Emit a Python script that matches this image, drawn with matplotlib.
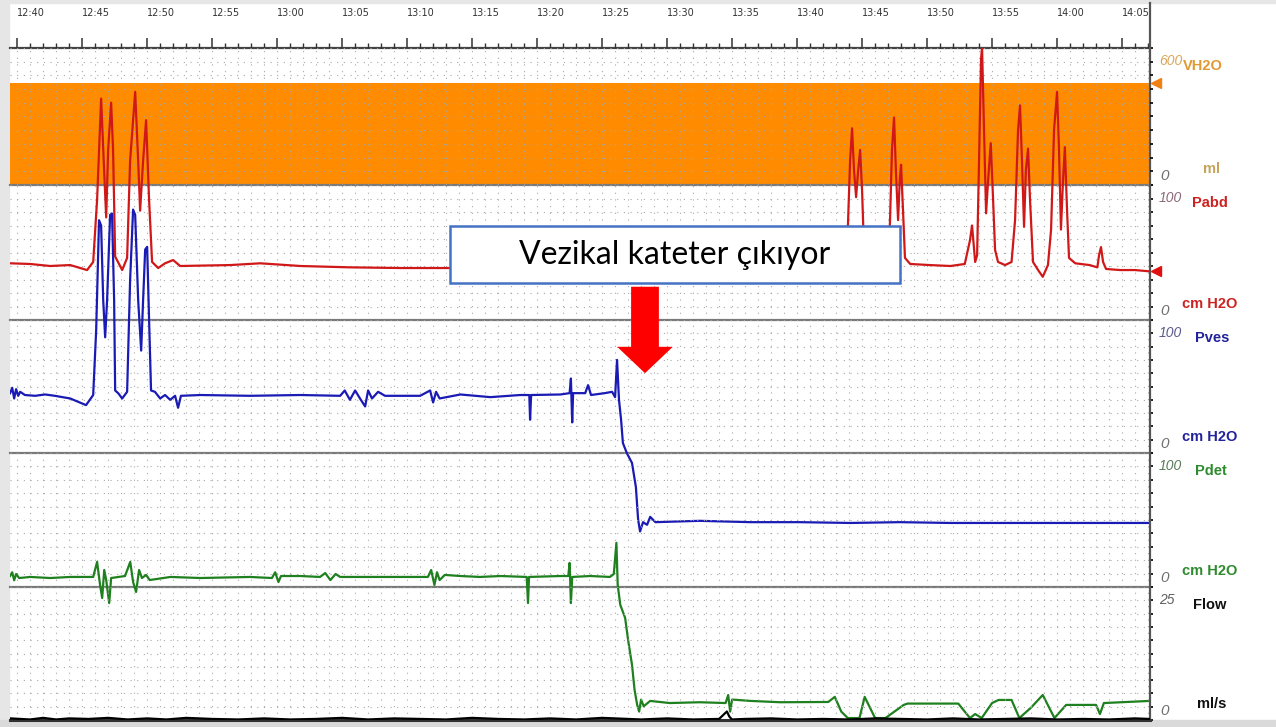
import numpy as np
import matplotlib.pyplot as plt
from matplotlib.patches import Rectangle
from matplotlib.lines import Line2D
from matplotlib.transforms import Bbox, TransformedBbox, ScaledTranslation

W, H = 1276, 727

# zaman: 12:40'tan itibaren dakika
tick_minutes = [0, 5, 10, 15, 20, 25, 30, 35, 40, 45, 50, 55, 60, 65, 70, 75, 80, 85]
tick_labels = ["12:40", "12:45", "12:50", "12:55", "13:00", "13:05", "13:10", "13:15", "13:20",
               "13:25", "13:30", "13:35", "13:40", "13:45", "13:50", "13:55", "14:00", "14:05"]
t_start, t_end = -0.55, 87.15

# VH2O (ml)
vh2o_t = [t_start, t_end]
vh2o_ml = [447, 447]

# Pabd (cm H2O)
pabd_t = [-0.54, 1.0, 2.54, 4.08, 5.38, 5.85, 6.15, 6.46, 6.69, 6.85, 7.0, 7.23, 7.38, 7.54, 8.08,
          8.46, 8.69, 9.08, 9.31, 9.46, 9.69, 9.92, 10.15, 10.38, 10.85, 11.38, 12.0, 12.54, 16.4,
          18.7, 21.8, 25.6, 29.5, 33.3, 44.8, 63.7, 63.9, 64.08, 64.23, 64.38, 64.54, 64.7, 64.85,
          65.0, 65.15, 65.6, 67.0, 67.15, 67.3, 67.46, 67.6, 67.77, 67.9, 68.0, 68.15, 68.3, 68.7,
          70.2, 71.8, 72.9, 73.3, 73.46, 73.7, 73.85, 74.0, 74.15, 74.23, 74.38, 74.54, 74.7, 74.9,
          75.08, 75.23, 75.46, 76.0, 76.5, 76.77, 77.0, 77.15, 77.3, 77.46, 77.6, 77.77, 77.92,
          78.15, 78.54, 78.9, 79.3, 79.54, 79.77, 80.0, 80.15, 80.3, 80.46, 80.6, 80.77, 80.92,
          81.4, 82.5, 83.1, 83.23, 83.38, 83.54, 83.77, 84.85, 86.0, 87.15]
pabd_v = [42, 41.5, 40, 40.7, 37, 43, 89, 164, 111, 76, 126, 161, 126, 47, 37,
          46, 118, 169, 118, 81, 118, 148, 89, 43, 38.5, 42, 44.4, 40, 40.7,
          42, 40, 39, 38.5, 38.5, 38.5, 40, 66.7, 118.5, 142, 111, 91, 111, 126,
          96, 52, 40, 40, 74, 126, 150, 111, 74, 104, 115, 81, 46, 41.5,
          40.7, 40, 41.5, 59, 70, 43, 48, 118.5, 193, 202, 141, 79, 104, 131,
          89, 52, 43, 40.7, 43, 74, 141, 159, 118.5, 69, 111, 127, 89,
          43, 37, 32, 40.7, 67, 141, 169, 126, 67, 104, 128, 81, 46,
          42, 40.7, 39, 48, 54, 43, 37.8, 37, 37, 36]

# Pves (cm H2O)
pves_t = [-0.54, -0.38, -0.23, -0.08, 0.08, 0.23, 0.6, 1.38, 2.15, 2.9, 4.08, 5.3, 5.85, 6.08, 6.3,
          6.46, 6.62, 6.77, 6.92, 7.15, 7.3, 7.46, 7.54, 7.77, 8.08, 8.46, 8.69, 8.92, 9.08, 9.31,
          9.54, 9.69, 9.85, 10.0, 10.15, 10.3, 10.6, 11.0, 11.38, 11.77, 12.15, 12.38, 12.6, 14.1,
          17.9, 21.8, 24.85, 25.2, 25.6, 26.0, 26.4, 26.77, 27.0, 27.3, 27.77, 28.3, 31.0, 31.77,
          32.0, 32.23, 32.5, 34.1, 36.4, 38.7, 39.4, 39.46, 39.54, 41.8, 42.5, 42.6, 42.7, 42.77,
          43.7, 43.92, 44.15, 45.2, 45.77, 46.0, 46.15, 46.3, 46.46, 46.6, 46.9, 47.3, 47.6, 47.77,
          47.92, 48.15, 48.46, 48.7, 49.1, 52.5, 56.4, 60.2, 64.1, 67.9, 71.8, 75.6, 79.5, 83.3, 87.15]
pves_v = [45, 49, 41, 48, 43, 46, 43.6, 43, 44, 43, 41, 36, 43.6, 92.5, 175,
          171, 115, 87, 115, 179, 180, 115, 47, 45, 41, 46, 130, 183, 179, 115,
          77, 115, 153, 155, 100, 47, 46, 41, 43.6, 40, 43, 34, 43, 43.6,
          43, 43.6, 43, 47, 40, 47, 40.6, 35, 47, 41, 46, 43, 43, 47,
          38, 46, 41, 44, 42, 43.6, 43.6, 25, 43.6, 44, 45, 56, 23, 45,
          45, 51, 43.6, 45, 46, 42, 70, 40, 25, 7.5, 0, -7.5, -25.6, -50,
          -59, -52, -54, -48, -52, -51, -52, -52, -52.6, -52, -52.6, -52.6, -52.6, -52.6, -52.6]

# Pdet (cm H2O)
pdet_t = [-0.54, -0.38, -0.23, -0.08, 0.15, 1.0, 2.54, 4.08, 5.85, 6.15, 6.38, 6.54, 6.7, 6.85, 7.08,
          7.23, 8.3, 8.7, 8.92, 9.15, 9.38, 9.6, 9.92, 10.2, 11.8, 14.1, 17.9, 19.6, 19.85, 20.1,
          20.3, 21.8, 23.3, 23.7, 24.1, 24.5, 24.85, 29.5, 31.6, 31.85, 32.1, 32.3, 32.5, 32.9, 34.1,
          35.6, 37.2, 39.2, 39.3, 39.38, 41.8, 42.4, 42.5, 42.6, 42.7, 44.1, 45.6, 45.9, 46.1, 46.2,
          46.4, 46.54, 46.77, 47.0, 47.3, 47.5, 47.7, 47.85, 48.0, 48.2, 48.7, 50.2, 52.5, 54.5, 54.7,
          54.85, 55.0, 56.4, 58.7, 62.4, 62.9, 63.4, 63.9, 64.8, 65.2, 66.0, 66.8, 68.2, 68.5, 72.4,
          73.3, 73.7, 74.2, 75.0, 75.5, 76.5, 77.1, 78.0, 78.9, 79.8, 80.7, 81.2, 83.0, 83.3, 83.6, 87.15]
pdet_v = [8.2, 11, 5, 9.7, 6.7, 7.5, 6.7, 7.5, 7.5, 18.7, 1.5, -8.2, 12.7, 5.2, -12,
          6.7, 8.2, 18.7, 3.7, -3.7, 12.7, 6.7, 9, 5.2, 7.5, 6.7, 7.5, 6.7, 11, 3.7,
          8.2, 8.2, 7.5, 10.4, 5.2, 9.7, 7.5, 7.5, 7.5, 12.7, 1.5, 11, 5.2, 9, 8.2,
          7.5, 8.2, 7.5, -12, 7.5, 8.2, 8.2, 18, -12, 7.5, 8.2, 7.5, 9.7, 33, 1.5,
          -13.4, -17, -23, -39.5, -58, -77, -88, -93, -84, -89, -85, -86.6, -86, -86.6, -80.6,
          -93, -84, -85, -86, -85.8, -82, -93, -97.8, -97.8, -82, -97.8, -97.8, -88, -87, -87,
          -97.8, -94.8, -97.8, -86.6, -84.3, -84.3, -97.8, -90, -80.6, -97.8, -88, -88, -88, -94.8, -86.6, -85]

# Flow (ml/s)
flow_t = [-0.5, 1, 2, 3, 4, 5.5, 7, 8.5, 10, 11.5, 13, 15, 17, 19, 21, 23, 25, 27, 29, 31, 33, 35,
          37, 39, 41, 43, 45, 47, 48, 50, 52, 54, 54.6, 54.8, 55.0, 56, 58, 60, 62, 64, 66, 68, 70,
          72, 74, 76, 78, 80, 82, 84, 86, 87.1]
flow_v = [0.3, 0.1, 0.4, 0.1, 0.3, 0.2, 0.4, 0.1, 0.3, 0.1, 0.4, 0.2, 0.1, 0.3, 0.1, 0.2, 0.4, 0.1,
          0.3, 0.2, 0.1, 0.4, 0.2, 0.1, 0.3, 0.1, 0.4, 0.2, 0.1, 0.3, 0.1, 0.2, 1.6, 0.6, 0.1, 0.2,
          0.3, 0.1, 0.2, 0.1, 0.3, 0.2, 0.1, 0.3, 0.1, 0.2, 0.3, 0.1, 0.2, 0.1, 0.3, 0.2]

# kanallar: ad, ust/alt piksel, ust deger, iz rengi, etiket renkleri, etiket konumlari
channels = [
    ("VH2O", 48, 185, 600, "#ff8c00", "#d9a55a", "#e0992e", "ml", "#c8a45a", 33, 53),
    ("Pabd", 185, 320, 100, "#d01818", "#8a6a78", "#cc2222", "cm H2O", "#cc2222", 42, 32),
    ("Pves", 320, 453, 100, "#1a1ab4", "#5a5a8a", "#22229a", "cm H2O", "#22229a", 45, 32),
    ("Pdet", 453, 587, 100, "#1e801e", "#5a7a5a", "#2e8b2e", "cm H2O", "#2e8b2e", 45, 32),
    ("Flow", 587, 720, 25, "#000000", "#606060", "#111111", "ml/s", "#111111", 43, 47),
]
traces = {"Pabd": (pabd_t, pabd_v), "Pves": (pves_t, pves_v),
          "Pdet": (pdet_t, pdet_v), "Flow": (flow_t, flow_v)}

plot_left, plot_right = 10, 1150

fig = plt.figure(figsize=(W / 100, H / 100), dpi=100)
fig.patch.set_facecolor("white")
fig.patches.append(Rectangle((0, 0), 9 / W, 1, transform=fig.transFigure, color="#e6e6e6", zorder=-5))
fig.patches.append(Rectangle((0, 0), 1, 7 / H, transform=fig.transFigure, color="#dadada", zorder=-5))
fig.patches.append(Rectangle((0, 1 - 3 / H), 1, 3 / H, transform=fig.transFigure, color="#e6e6e6", zorder=-5))

clip = TransformedBbox(Bbox.from_extents(plot_left / W, 1 - 720 / H, plot_right / W, 1 - 48 / H),
                       fig.transFigure)
marker_shift = ScaledTranslation(0.06, 0, fig.dpi_scale_trans)

axes = {}
for name, top, bot, ymax, col, numcol, namecol, unit, unitcol, name_dx, unit_dx in channels:
    ax = fig.add_axes([plot_left / W, 1 - bot / H, (plot_right - plot_left) / W, (bot - top) / H])
    ax.patch.set_alpha(0)
    ax.set_xlim(t_start, t_end)
    ax.set_ylim(0, ymax)
    ax.set_xticks(tick_minutes)
    ax.set_xticks(np.arange(0, 88, 1), minor=True)
    ax.set_yticks(np.linspace(0, ymax, 11))
    ax.yaxis.tick_right()
    ax.tick_params(axis="y", direction="out", length=2.5, width=1.3, colors="#111", labelright=False)
    ax.grid(which="both", color="#a8a8a8", lw=0.8, linestyle=(0, (1, 5)))
    for s in ["left", "top"]:
        ax.spines[s].set_visible(False)
    ax.spines["right"].set_color("#555555")
    ax.spines["right"].set_linewidth(1.6)
    ax.spines["bottom"].set_color("#7a7a7a" if name != "Flow" else "#333333")
    ax.spines["bottom"].set_linewidth(1.6 if name != "Flow" else 2.2)

    if name == "VH2O":
        ax.fill_between(vh2o_t, 0, vh2o_ml, color=col, lw=0, zorder=1)
        ax.set_axisbelow(False)
        ax.spines["top"].set_visible(True)
        ax.spines["top"].set_color("#444444")
        ax.spines["top"].set_linewidth(1.6)
        ax.xaxis.tick_top()
        ax.set_xticklabels(tick_labels)
        for lab in ax.get_xticklabels():
            lab.set_horizontalalignment("left")
        ax.tick_params(axis="x", which="major", direction="out", length=7.5, width=1.1,
                       pad=14, labelsize=7, colors="#333")
        ax.tick_params(axis="x", which="minor", direction="out", length=3.5, width=1.0, colors="#333")
        ax.plot([t_end], [vh2o_ml[-1]], marker="<", ms=7, color="#f08010", clip_on=False,
                zorder=6, transform=ax.transData + marker_shift)
    else:
        ax.tick_params(axis="x", which="both", length=0, labelbottom=False, labeltop=False)
        tt, vv = traces[name]
        line, = ax.plot(tt, vv, color=col, lw=1.6, zorder=3)
        line.set_clip_box(clip)
        if name == "Pabd":
            ax.plot([t_end], [vv[-1]], marker="<", ms=7, color="#e01010", zorder=6, clip_on=False,
                    transform=ax.transData + marker_shift)

    # sag etiketler
    ax.annotate(f"{ymax}", xy=(1, 1), xycoords="axes fraction", xytext=(9, -13),
                textcoords="offset pixels", ha="left", va="center", fontsize=10,
                style="italic", family="Liberation Sans", color=numcol, annotation_clip=False)
    ax.annotate(name, xy=(1, 1), xycoords="axes fraction", xytext=(name_dx, -18),
                textcoords="offset pixels", ha="left", va="center", fontsize=10.5,
                weight="bold", family="Liberation Sans", color=namecol, annotation_clip=False)
    ax.annotate("0", xy=(1, 0), xycoords="axes fraction", xytext=(10, 9),
                textcoords="offset pixels", ha="left", va="center", fontsize=11,
                style="italic", family="Liberation Sans", color="#707070", annotation_clip=False)
    ax.annotate(unit, xy=(1, 0), xycoords="axes fraction", xytext=(unit_dx, 16),
                textcoords="offset pixels", ha="left", va="center", fontsize=10.5,
                weight="bold", family="Liberation Sans", color=unitcol, annotation_clip=False)
    axes[name] = ax

# sag eksen cizgisi ust kisma kadar
fig.add_artist(Line2D([plot_right / W] * 2, [1 - 48 / H, 1 - 3 / H], transform=fig.transFigure,
                      color="#555555", lw=1.6))

# aciklama kutusu ve ok
ax_pabd = axes["Pabd"]
ax_pabd.add_patch(Rectangle((33.3, 27.4), 34.6, 42.2, facecolor="white", edgecolor="#4472c4",
                            lw=1.8, zorder=8, clip_on=False))
ax_pabd.text(50.6, 48.5, "Vezikal kateter çıkıyor", ha="center", va="center", fontsize=23,
             family="Lato", color="black", zorder=9)

axes["Pves"].annotate("", xy=(48.3, 60), xytext=(48.3, 125), xycoords="data",
                      arrowprops=dict(facecolor="#ff0000", edgecolor="none", width=20,
                                      headwidth=40, headlength=19, shrink=0), zorder=9,
                      annotation_clip=False)

fig.savefig("out.png", dpi=100)
